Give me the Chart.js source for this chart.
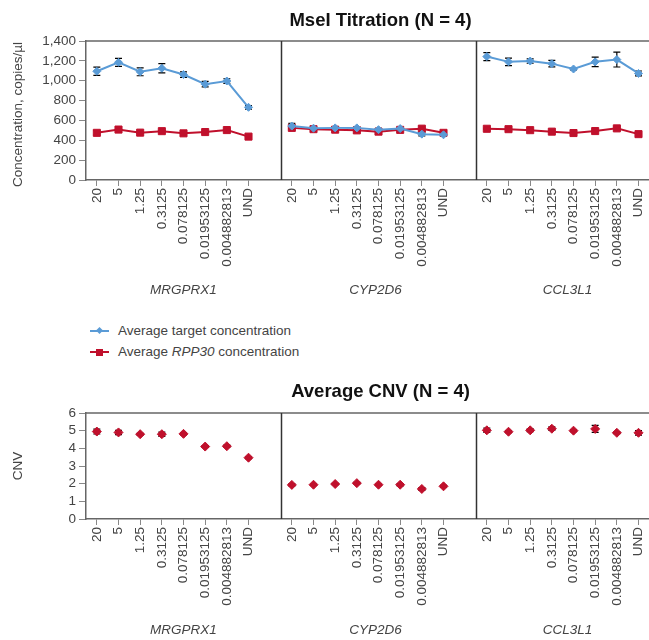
<!DOCTYPE html>
<html>
<head>
<meta charset="utf-8">
<title>MseI Titration</title>
<script src="https://cdn.jsdelivr.net/npm/chart.js@4.4.1/dist/chart.umd.min.js"></script>
<style>
  html, body { margin: 0; padding: 0; background: #fff; overflow: hidden; }
  #wrap { position: relative; width: 649px; height: 640px; overflow: hidden; }
  canvas { position: absolute; left: 0; }
  #topChart { top: 0; }
  #cnvChart { top: 370px; }
  .legend { position: absolute; left: 90px; top: 320px; font: 13.5px 'Liberation Sans', Arial, sans-serif; color: #444; }
  .row { position: relative; height: 21px; line-height: 21px; padding-left: 28px; white-space: nowrap; }
  .swatch { position: absolute; left: 0; top: 10px; width: 19px; height: 2px; }
  .swatch i { position: absolute; }
  .blue { background: #5a9bd6; }
  .red { background: #c0102c; }
  .blue i { left: 7px; top: -2px; width: 5px; height: 5px; background: #5a9bd6; transform: rotate(45deg); }
  .red i { left: 6px; top: -2.5px; width: 7px; height: 7px; background: #c0102c; }
</style>
</head>
<body>
<div id="wrap">
  <canvas id="topChart" width="700" height="305"></canvas>
  <div class="legend">
    <div class="row"><span class="swatch blue"><i></i></span>Average target concentration</div>
    <div class="row"><span class="swatch red"><i></i></span>Average <em>RPP30</em> concentration</div>
  </div>
  <canvas id="cnvChart" width="700" height="270"></canvas>
</div>
<script>
// DATA ---------------------------------------------------------------

const concLabels = ['20', '5', '1.25', '0.3125', '0.078125', '0.01953125', '0.004882813', 'UND'];
const geneNames = ['MRGPRX1', 'CYP2D6', 'CCL3L1'];

// average target concentration (copies/µl) and error
const targetMRGPRX1 = [1095, 1185, 1090, 1125, 1062, 965, 997, 732];
const targetMRGPRX1Err = [42, 40, 40, 47, 28, 28, 23, 18];
const targetCYP2D6 = [543, 522, 525, 525, 507, 518, 462, 455];
const targetCYP2D6Err = [28, 10, 10, 10, 12, 10, 18, 8];
const targetCCL3L1 = [1243, 1190, 1198, 1172, 1118, 1190, 1213, 1073];
const targetCCL3L1Err = [40, 38, 22, 33, 10, 48, 75, 25];

// average RPP30 concentration (copies/µl) and error
const rppMRGPRX1 = [475, 508, 477, 492, 470, 483, 503, 437];
const rppMRGPRX1Err = [22, 8, 8, 8, 6, 6, 8, 8];
const rppCYP2D6 = [525, 512, 507, 500, 487, 505, 517, 475];
const rppCYP2D6Err = [8, 6, 12, 8, 8, 6, 6, 6];
const rppCCL3L1 = [516, 512, 502, 487, 473, 493, 520, 462];
const rppCCL3L1Err = [6, 6, 6, 6, 6, 6, 16, 6];

// average CNV and error
const cnvMRGPRX1 = [4.95, 4.9, 4.8, 4.8, 4.82, 4.1, 4.12, 3.47];
const cnvMRGPRX1Err = [0.14, 0.12, 0.05, 0.12, 0.06, 0.05, 0.06, 0.05];
const cnvCYP2D6 = [1.93, 1.94, 1.98, 2.03, 1.94, 1.94, 1.7, 1.85];
const cnvCYP2D6Err = [0.06, 0.04, 0.04, 0.05, 0.04, 0.06, 0.08, 0.05];
const cnvCCL3L1 = [5.02, 4.94, 5.02, 5.11, 5.0, 5.1, 4.88, 4.88];
const cnvCCL3L1Err = [0.12, 0.05, 0.08, 0.1, 0.05, 0.2, 0.05, 0.13];

const BLUE = '#5a9bd6';
const RED = '#c0102c';
const TEXT = '#444';
const FONT = "'Liberation Sans', Arial, sans-serif";

// one empty slot after each gene panel
function panels(a, b, c, blank) {
    return [...a, blank, ...b, blank, ...c, blank];
}
const xLabels = panels(concLabels, concLabels, concLabels, '');
const slot = concLabels.length + 1;

Chart.defaults.font.family = FONT;
Chart.defaults.color = TEXT;

// PLUGINS ------------------------------------------------------------

// frame top line + panel dividers
const frame = {
    id: 'frame',
    beforeDatasetsDraw(chart) {
        const { ctx, chartArea: a, scales: { x } } = chart;
        ctx.save();
        ctx.strokeStyle = '#666';
        ctx.lineWidth = 1.5;
        ctx.beginPath();
        ctx.moveTo(a.left, a.top);
        ctx.lineTo(a.right, a.top);
        ctx.stroke();
        ctx.strokeStyle = '#333';
        for (let p = 1; p < geneNames.length; p++) {
            const px = Math.round(x.getPixelForValue(p * slot - 0.5)) + 0.5;
            ctx.beginPath();
            ctx.moveTo(px, a.top);
            ctx.lineTo(px, a.bottom);
            ctx.stroke();
        }
        ctx.restore();
    }
};

const errorBars = {
    id: 'errorBars',
    beforeDatasetsDraw(chart) {
        const { ctx, scales: { y } } = chart;
        ctx.save();
        ctx.strokeStyle = '#000';
        ctx.lineWidth = 1.2;
        chart.data.datasets.forEach((ds, i) => {
            if (!ds.errors) return;
            const meta = chart.getDatasetMeta(i);
            ds.data.forEach((v, j) => {
                const e = ds.errors[j];
                if (v == null || !e) return;
                const px = meta.data[j].x;
                const y1 = y.getPixelForValue(v + e);
                const y2 = y.getPixelForValue(v - e);
                ctx.beginPath();
                ctx.moveTo(px, y1); ctx.lineTo(px, y2);
                ctx.moveTo(px - 3.5, y1); ctx.lineTo(px + 3.5, y1);
                ctx.moveTo(px - 3.5, y2); ctx.lineTo(px + 3.5, y2);
                ctx.stroke();
            });
        });
        ctx.restore();
    }
};

// titles, y title and gene names
const decor = {
    id: 'decor',
    afterDraw(chart, args, opts) {
        const { ctx, chartArea: a, scales: { x } } = chart;
        ctx.save();
        ctx.textAlign = 'center';
        ctx.textBaseline = 'middle';
        ctx.fillStyle = '#111';
        ctx.font = `bold 18.5px ${FONT}`;
        ctx.fillText(opts.title, (a.left + a.right) / 2 + 2, opts.titleY);

        ctx.fillStyle = TEXT;
        ctx.font = `italic 13.5px ${FONT}`;
        geneNames.forEach((g, p) => {
            ctx.fillText(g, x.getPixelForValue(p * slot + 4) - p * 3, opts.geneY);
        });

        ctx.font = `13.5px ${FONT}`;
        ctx.translate(18, (a.top + a.bottom) / 2 + opts.yTitleShift);
        ctx.rotate(-Math.PI / 2);
        ctx.fillText(opts.yTitle, 0, 0);
        ctx.restore();
    }
};

function xScale(height) {
    return {
        type: 'category',
        offset: true,
        grid: {
            drawOnChartArea: false,
            tickLength: 6,
            tickColor: (c) => xLabels[c.index] ? '#888' : 'transparent'
        },
        border: { color: '#666', width: 1.5 },
        ticks: {
            autoSkip: false, minRotation: 90, maxRotation: 90, padding: 2,
            font: { size: 13.5 }, color: TEXT
        },
        afterFit: (s) => { s.height = height; }
    };
}

function yScale(max, step) {
    return {
        min: 0, max: max,
        grid: { drawOnChartArea: false, tickLength: 7, tickColor: '#888' },
        border: { color: '#666', width: 1.5 },
        ticks: { stepSize: step, autoSkip: false, padding: 3, font: { size: 13.5 }, color: TEXT },
        afterFit: (s) => { s.width = 86; }
    };
}

// TOP CHART ----------------------------------------------------------

new Chart(document.getElementById('topChart'), {
    type: 'line',
    data: {
        labels: xLabels,
        datasets: [{
            label: 'Average target concentration',
            data: panels(targetMRGPRX1, targetCYP2D6, targetCCL3L1, null),
            errors: panels(targetMRGPRX1Err, targetCYP2D6Err, targetCCL3L1Err, null),
            borderColor: BLUE, backgroundColor: BLUE, borderWidth: 2,
            pointStyle: 'rectRot', pointRadius: 4, pointBorderWidth: 1
        }, {
            label: 'Average RPP30 concentration',
            data: panels(rppMRGPRX1, rppCYP2D6, rppCCL3L1, null),
            errors: panels(rppMRGPRX1Err, rppCYP2D6Err, rppCCL3L1Err, null),
            borderColor: RED, backgroundColor: RED, borderWidth: 2,
            pointStyle: 'rect', pointRadius: 5, pointBorderWidth: 1
        }]
    },
    options: {
        responsive: false,
        animation: false,
        devicePixelRatio: 1,
        layout: { padding: { top: 41, right: 29, left: 0, bottom: 0 } },
        plugins: {
            legend: { display: false },
            tooltip: { enabled: false },
            decor: { title: 'MseI Titration (N = 4)', titleY: 20.5, geneY: 290, yTitle: 'Concentration, copies/µl', yTitleShift: 4 }
        },
        scales: { x: xScale(125), y: yScale(1400, 200) }
    },
    plugins: [frame, errorBars, decor]
});

// CNV CHART ----------------------------------------------------------

new Chart(document.getElementById('cnvChart'), {
    type: 'line',
    data: {
        labels: xLabels,
        datasets: [{
            label: 'Average CNV',
            data: panels(cnvMRGPRX1, cnvCYP2D6, cnvCCL3L1, null),
            errors: panels(cnvMRGPRX1Err, cnvCYP2D6Err, cnvCCL3L1Err, null),
            showLine: false,
            borderColor: RED, backgroundColor: RED,
            pointStyle: 'rectRot', pointRadius: 4.5, pointBorderWidth: 1
        }]
    },
    options: {
        responsive: false,
        animation: false,
        devicePixelRatio: 1,
        layout: { padding: { top: 43, right: 29, left: 0, bottom: 0 } },
        plugins: {
            legend: { display: false },
            tooltip: { enabled: false },
            decor: { title: 'Average CNV (N = 4)', titleY: 21.5, geneY: 260, yTitle: 'CNV', yTitleShift: 0 }
        },
        scales: { x: xScale(121), y: yScale(6, 1) }
    },
    plugins: [frame, errorBars, decor]
});
</script>
</body>
</html>
